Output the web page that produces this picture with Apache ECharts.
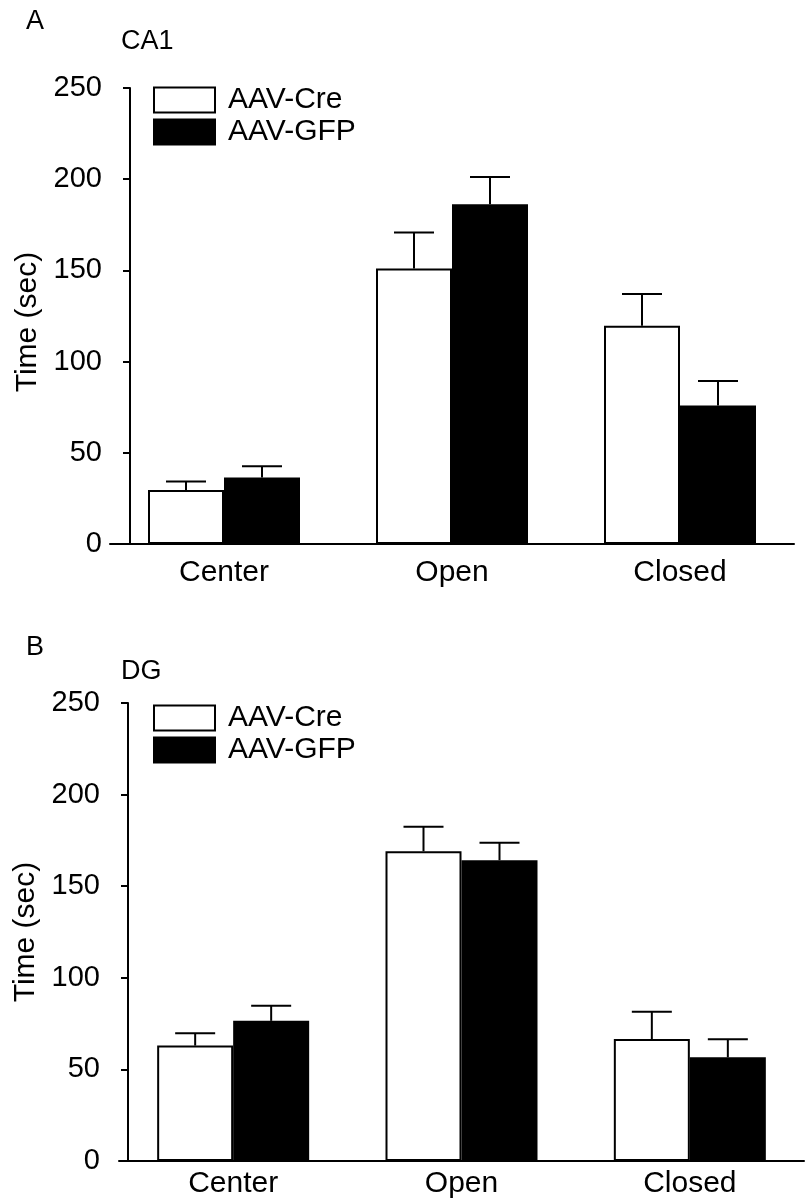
<!DOCTYPE html>
<html>
<head>
<meta charset="utf-8">
<script src="https://cdn.jsdelivr.net/npm/echarts@6/dist/echarts.min.js"></script>
<style>
    html, body { margin: 0; background: #fff; }
    #char { width: 806px; height: 1200px; }
</style>
</head>
<body>
<div id="char"></div>
<script>
// 两个面板: CA1 / DG, 每组 mean + SEM
const categories = ['Center', 'Open', 'Closed'];
const groupNames = ['AAV-Cre', 'AAV-GFP'];

const ca1Cre = [29.6, 151.0, 119.6];
const ca1CreSem = [4.6, 19.8, 17.4];
const ca1Gfp = [36.4, 186.3, 75.9];
const ca1GfpSem = [6.2, 14.9, 13.5];

const dgCre = [63.0, 169.1, 66.6];
const dgCreSem = [6.7, 13.3, 14.9];
const dgGfp = [76.5, 164.2, 56.6];
const dgGfpSem = [8.3, 9.5, 9.9];

const FONT = '"Liberation Sans", Arial, Helvetica, sans-serif';
const BAR_W = 76;
const CAP_W = 40;

function errSeries(means, sems, side, axisIdx) {
    return {
        type: 'custom',
        xAxisIndex: axisIdx,
        yAxisIndex: axisIdx,
        z: 5,
        silent: true,
        data: means.map((m, i) => [i, m, m + sems[i]]),
        renderItem: function (params, api) {
            const base = api.coord([api.value(0), api.value(1)]);
            const top = api.coord([api.value(0), api.value(2)]);
            const x = base[0] + side * BAR_W / 2;
            const style = { stroke: '#000', lineWidth: 2 };
            return {
                type: 'group',
                children: [
                    { type: 'line', shape: { x1: x, y1: base[1], x2: x, y2: top[1] }, style: style },
                    { type: 'line', shape: { x1: x - CAP_W / 2, y1: top[1], x2: x + CAP_W / 2, y2: top[1] }, style: style }
                ]
            };
        }
    };
}

function barSeries(name, values, color, axisIdx) {
    return {
        name: name,
        type: 'bar',
        xAxisIndex: axisIdx,
        yAxisIndex: axisIdx,
        barWidth: BAR_W,
        barGap: '0%',
        itemStyle: { color: color, borderColor: '#000', borderWidth: 2 },
        data: values
    };
}

function makeX(gridIndex, margin) {
    return {
        type: 'category',
        gridIndex: gridIndex,
        data: categories,
        axisLine: { lineStyle: { color: '#000', width: 2 } },
        axisTick: { show: false },
        axisLabel: { color: '#000', fontSize: 30, fontFamily: FONT, margin: margin }
    };
}

function makeY(gridIndex, offset, namePad) {
    return {
        type: 'value',
        gridIndex: gridIndex,
        min: 0,
        max: 250,
        interval: 50,
        offset: offset,
        name: 'Time (sec)',
        nameLocation: 'middle',
        nameGap: 86,
        nameTextStyle: { color: '#000', fontSize: 30, fontFamily: FONT, padding: namePad },
        axisLine: { show: true, lineStyle: { color: '#000', width: 2 } },
        axisTick: { show: true, length: 7, lineStyle: { color: '#000', width: 2 } },
        axisLabel: { color: '#000', fontSize: 29, fontFamily: FONT, margin: 28 },
        splitLine: { show: false }
    };
}

function makeLegend(top) {
    return {
        orient: 'vertical',
        left: 153,
        top: top,
        padding: 0,
        itemWidth: 61,
        itemHeight: 25,
        itemGap: 2,
        selectedMode: false,
        textStyle: { color: '#000', fontSize: 30, fontFamily: FONT, padding: [0, 0, 0, 8] },
        data: [
            { name: groupNames[0], icon: 'rect', itemStyle: { color: '#fff', borderColor: '#000', borderWidth: 2 } },
            { name: groupNames[1], icon: 'rect', itemStyle: { color: '#000', borderColor: '#000', borderWidth: 2 } }
        ]
    };
}

const titleStyle = { color: '#000', fontSize: 27, fontWeight: 'normal', fontFamily: FONT };

const charEch = echarts.init(document.getElementById('char'));
const option = {
    backgroundColor: '#fff',
    animation: false,
    title: [
        { text: 'A', left: 26, top: 8, padding: 0, textStyle: titleStyle },
        { text: 'CA1', left: 121, top: 28, padding: 0, textStyle: titleStyle },
        { text: 'B', left: 26, top: 634, padding: 0, textStyle: titleStyle },
        { text: 'DG', left: 121, top: 658, padding: 0, textStyle: titleStyle }
    ],
    legend: [makeLegend(85), makeLegend(703)],
    grid: [
        { left: 110, width: 684, top: 88, height: 456 },
        { left: 119, width: 685, top: 703, height: 458 }
    ],
    xAxis: [makeX(0, 14), makeX(1, 8)],
    yAxis: [makeY(0, -20, [0, 12, 0, 0]), makeY(1, -9, 0)],
    series: [
        barSeries(groupNames[0], ca1Cre, '#fff', 0),
        barSeries(groupNames[1], ca1Gfp, '#000', 0),
        errSeries(ca1Cre, ca1CreSem, -1, 0),
        errSeries(ca1Gfp, ca1GfpSem, 1, 0),
        barSeries(groupNames[0], dgCre, '#fff', 1),
        barSeries(groupNames[1], dgGfp, '#000', 1),
        errSeries(dgCre, dgCreSem, -1, 1),
        errSeries(dgGfp, dgGfpSem, 1, 1)
    ]
};
charEch.setOption(option, true);
</script>
</body>
</html>
